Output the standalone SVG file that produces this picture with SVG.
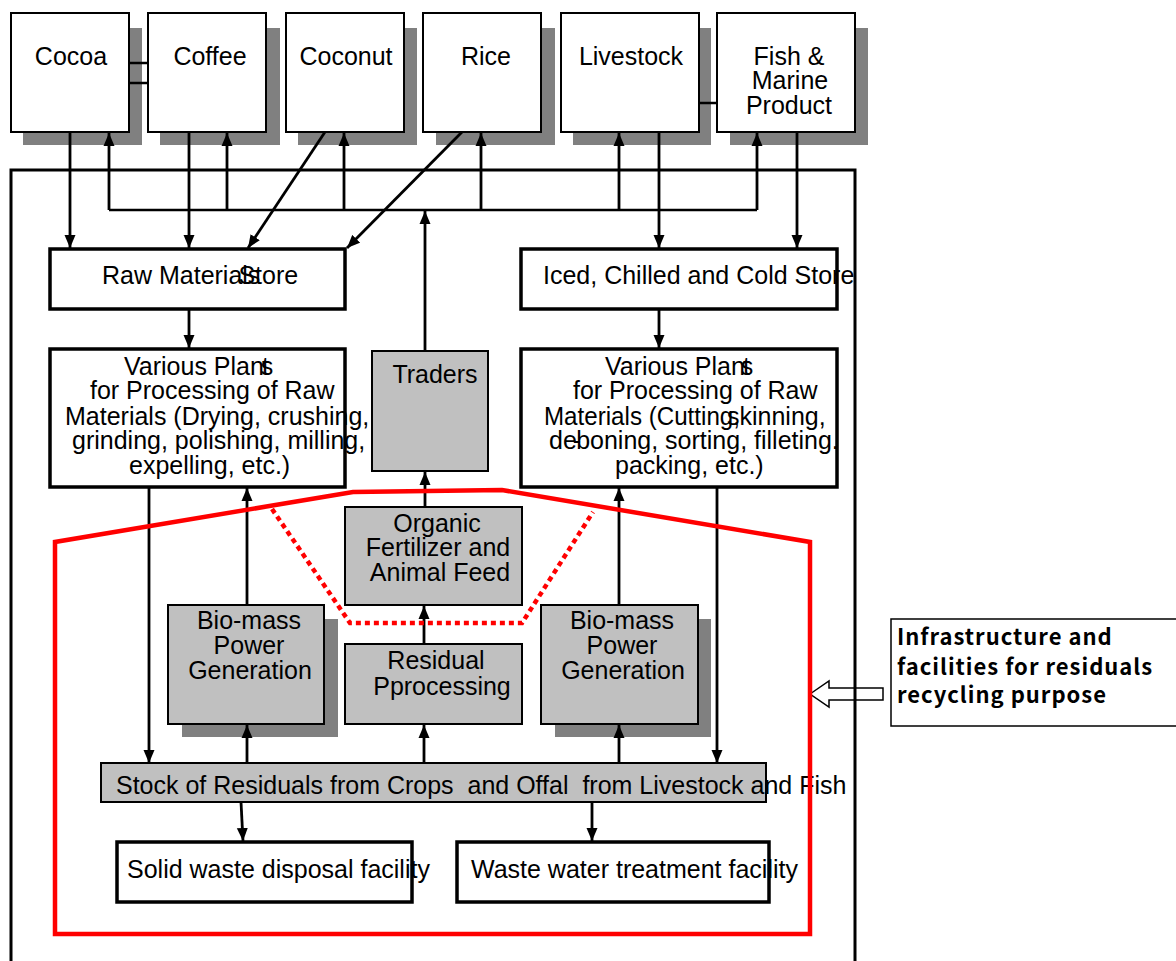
<svg xmlns="http://www.w3.org/2000/svg" width="1176" height="961" viewBox="0 0 1176 961">
<style>
.t{font-family:"Liberation Sans",Arial,sans-serif;font-size:25px;fill:#000}
.m{text-anchor:middle}
.box{fill:#fff;stroke:#000;stroke-width:2}
.bbox{fill:#fff;stroke:#000;stroke-width:3.5}
.gray{fill:#c0c0c0;stroke:#000;stroke-width:2}
.shadow{fill:#808080}
.c{stroke:#000;stroke-width:2.8;fill:none;marker-end:url(#ah)}
.ln{stroke:#000;stroke-width:2.5;fill:none}
.red{stroke:#ff0000;stroke-width:4.5;fill:none;stroke-linejoin:miter}
.reddot{stroke:#ff0000;stroke-width:4.5;fill:none;stroke-dasharray:5 4}
.note{font-family:"Noto Sans CJK JP",sans-serif;font-weight:bold;font-size:22px;letter-spacing:1px;fill:#000}
</style>
<defs>
<marker id="ah" viewBox="0 0 13 12" refX="13" refY="6" markerWidth="13" markerHeight="12" markerUnits="userSpaceOnUse" orient="auto">
<path d="M0,0.5 L13,6 L0,11.5 Z" fill="#000"/>
</marker>
</defs>
<rect width="1176" height="961" fill="#fff"/>

<!-- note arrow (under frame) -->
<g id="note-arrow">
<polygon points="810,694 829,681 829,688 883,688 883,700 829,700 829,707" fill="#fff" stroke="#000" stroke-width="1.5"/>
</g>

<!-- outer frame -->
<rect x="11" y="170" width="844" height="830" fill="none" stroke="#000" stroke-width="3"/>

<!-- top nodes -->
<g id="cocoa"><rect class="shadow" x="23" y="28" width="119" height="117"/><rect class="box" x="11" y="13" width="118" height="119"/><text class="t m" x="71" y="65">Cocoa</text></g>
<g id="coffee"><rect class="shadow" x="160" y="28" width="120" height="117"/><rect class="box" x="148" y="13" width="118" height="119"/><text class="t m" x="210" y="65">Coffee</text></g>
<g id="coconut"><rect class="shadow" x="298" y="28" width="119" height="117"/><rect class="box" x="286" y="13" width="118" height="119"/><text class="t m" x="346" y="65">Coconut</text></g>
<g id="rice"><rect class="shadow" x="436" y="28" width="119" height="117"/><rect class="box" x="423" y="13" width="118" height="119"/><text class="t m" x="486" y="65">Rice</text></g>
<g id="livestock"><rect class="shadow" x="573" y="28" width="138" height="117"/><rect class="box" x="561" y="13" width="138" height="119"/><text class="t m" x="631" y="65">Livestock</text></g>
<g id="fish"><rect class="shadow" x="730" y="28" width="138" height="117"/><rect class="box" x="717" y="13" width="138" height="119"/><text class="t m"><tspan x="789" y="65">Fish &amp;</tspan><tspan x="790" y="89">Marine</tspan><tspan x="789" y="114">Product</tspan></text></g>

<!-- stores -->
<g id="raw-store"><rect class="bbox" x="50" y="249" width="295" height="60"/><text class="t" x="102" y="284">Raw Materials<tspan dx="-22">Store</tspan></text></g>
<g id="cold-store"><rect class="bbox" x="521" y="249" width="316" height="60"/><text class="t" x="543" y="284">Iced, Chilled and Cold Store</text></g>

<!-- processing plants -->
<g id="plants-left"><rect class="bbox" x="50" y="349" width="295" height="138"/>
<text class="t"><tspan x="124" y="375">Various Plan</tspan><tspan dx="-2">t</tspan><tspan dx="-8">s</tspan><tspan x="90" y="399">for Processing of Raw</tspan><tspan x="65" y="425">Materials (Drying, crushing,</tspan><tspan x="72" y="449">grinding, polishing, milling,</tspan><tspan x="129" y="474">expelling, etc.)</tspan></text></g>
<g id="plants-right"><rect class="bbox" x="521" y="349" width="316" height="138"/>
<text class="t"><tspan x="605" y="375">Various Plan</tspan><tspan dx="-2">t</tspan><tspan dx="-9">s</tspan><tspan x="573" y="399">for Processing of Raw</tspan><tspan x="544" y="425" textLength="196" lengthAdjust="spacingAndGlyphs">Materials (Cutting,</tspan><tspan x="727" y="425">skinning,</tspan><tspan x="549" y="449">de</tspan><tspan dx="-4">-</tspan><tspan dx="-5">boning, sorting, filleting.</tspan><tspan x="615" y="474">packing, etc.)</tspan></text></g>

<g id="traders"><rect class="gray" x="372" y="351" width="116" height="120"/><text class="t m" x="435" y="383">Traders</text></g>
<g id="fertilizer"><rect class="gray" x="345" y="507" width="177" height="98"/><text class="t m"><tspan x="437" y="532">Organic</tspan><tspan x="438" y="556">Fertilizer and</tspan><tspan x="440" y="581">Animal Feed</tspan></text></g>
<g id="residual"><rect class="gray" x="345" y="644" width="177" height="80"/><text class="t m"><tspan x="436" y="669">Residual</tspan><tspan x="442" y="695">Pprocessing</tspan></text></g>
<g id="biomass-left"><rect class="shadow" x="182" y="619" width="156" height="118"/><rect class="gray" x="168" y="605" width="156" height="119"/><text class="t m"><tspan x="249" y="629">Bio-mass</tspan><tspan x="249" y="654">Power</tspan><tspan x="250" y="679">Generation</tspan></text></g>
<g id="biomass-right"><rect class="shadow" x="555" y="619" width="156" height="118"/><rect class="gray" x="541" y="605" width="157" height="119"/><text class="t m"><tspan x="622" y="629">Bio-mass</tspan><tspan x="622" y="654">Power</tspan><tspan x="623" y="679">Generation</tspan></text></g>

<g id="stock"><rect class="gray" x="101" y="763" width="665" height="39"/><text class="t" x="116" y="794" xml:space="preserve">Stock of Residuals from Crops  and Offal  from Livestock and Fish</text></g>
<g id="solid-waste"><rect class="bbox" x="117" y="842" width="295" height="60"/><text class="t" x="127" y="878">Solid waste disposal facility</text></g>
<g id="waste-water"><rect class="bbox" x="457" y="842" width="312" height="60"/><text class="t" x="471" y="878">Waste water treatment facility</text></g>

<g id="note"><rect x="891" y="619" width="300" height="107" fill="#fff" stroke="#000" stroke-width="1.5"/>
<text class="note"><tspan x="897" y="645">Infrastructure and</tspan><tspan x="897" y="675">facilities for residuals</tspan><tspan x="897" y="703">recycling purpose</tspan></text></g>

<!-- connectors -->
<g id="connectors">
<line class="ln" x1="129" y1="63" x2="148" y2="63"/>
<line class="ln" x1="129" y1="83" x2="148" y2="83"/>
<line class="ln" x1="699" y1="103" x2="717" y2="103"/>
<line class="ln" x1="109" y1="210" x2="757" y2="210"/>
<line class="c" x1="109" y1="210" x2="109" y2="133"/>
<line class="c" x1="227" y1="210" x2="227" y2="133"/>
<line class="c" x1="344" y1="210" x2="344" y2="133"/>
<line class="c" x1="481" y1="210" x2="481" y2="133"/>
<line class="c" x1="619" y1="210" x2="619" y2="133"/>
<line class="c" x1="757" y1="210" x2="757" y2="133"/>
<line class="c" x1="425" y1="351" x2="425" y2="211"/>
<line class="c" x1="70" y1="132" x2="70" y2="248"/>
<line class="c" x1="189" y1="132" x2="189" y2="248"/>
<line class="c" x1="325" y1="132" x2="248" y2="248"/>
<line class="c" x1="462" y1="132" x2="347" y2="248"/>
<line class="c" x1="659" y1="132" x2="659" y2="248"/>
<line class="c" x1="797" y1="132" x2="797" y2="248"/>
<line class="c" x1="189" y1="310" x2="189" y2="348"/>
<line class="c" x1="659" y1="310" x2="659" y2="348"/>
<line class="c" x1="149" y1="488" x2="149" y2="763"/>
<line class="c" x1="247" y1="605" x2="247" y2="488"/>
<line class="c" x1="247" y1="763" x2="247" y2="725"/>
<line class="c" x1="619" y1="605" x2="619" y2="488"/>
<line class="c" x1="619" y1="763" x2="619" y2="725"/>
<line class="c" x1="717" y1="488" x2="717" y2="763"/>
<line class="c" x1="424" y1="763" x2="424" y2="725"/>
<line class="c" x1="424" y1="644" x2="424" y2="606"/>
<line class="c" x1="425" y1="507" x2="425" y2="472"/>
<line class="c" x1="241" y1="802" x2="243" y2="841"/>
<line class="c" x1="592" y1="802" x2="592" y2="841"/>
</g>

<!-- red boundaries -->
<g id="recycling-boundary">
<path class="red" d="M55,934 V542 L353,492 L502,490 L810,542 V934 Z"/>
<path class="reddot" d="M272,509 L350,623 H522 L593,512"/>
</g>
</svg>
